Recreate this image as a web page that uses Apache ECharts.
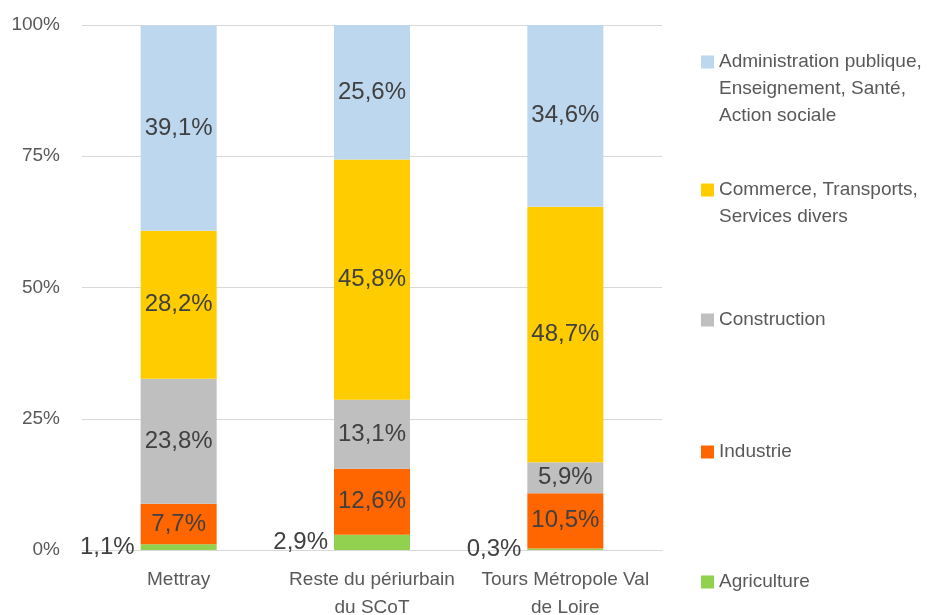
<!DOCTYPE html>
<html>
<head>
<meta charset="utf-8">
<script src="https://cdn.jsdelivr.net/npm/echarts@6/dist/echarts.min.js"></script>
<style>
  html, body { margin: 0; padding: 0; background: #ffffff; }
  #chart { width: 930px; height: 615px; }
</style>
</head>
<body>
<div id="chart"></div>
<script>
// Territories on the category axis
var categories = ['Mettray', 'Reste du périurbain\ndu SCoT', 'Tours Métropole Val\nde Loire'];

// Share of jobs by sector (%), one array per sector
var agriculture    = [1.1, 2.9, 0.3];
var industrie      = [7.7, 12.6, 10.5];
var construction   = [23.8, 13.1, 5.9];
var commerce       = [28.2, 45.8, 48.7];
var administration = [39.1, 25.6, 34.6];

// Sector names as shown in the legend
var sectorNames = [
  'Agriculture',
  'Industrie',
  'Construction',
  'Commerce, Transports,\nServices divers',
  'Administration publique,\nEnseignement, Santé,\nAction sociale'
];

// Y axis ticks
var yTicks = [0, 25, 50, 75, 100];

var narrowFont = '"Liberation Sans Narrow", "Arial Narrow", "Liberation Sans", Arial, sans-serif';
var labelFont = '"Liberation Sans", Arial, sans-serif';
var colors = ['#92D050', '#FF6600', '#BFBFBF', '#FFCC00', '#BDD7EE'];
var seriesData = [agriculture, industrie, construction, commerce, administration];

function fmt(v) {
  return v.toFixed(1).replace('.', ',') + '%';
}

var series = seriesData.map(function (vals, i) {
  return {
    name: sectorNames[i],
    type: 'bar',
    stack: 'total',
    barWidth: 76,
    data: vals,
    itemStyle: { color: colors[i] },
    label: {
      show: true,
      position: i === 0 ? 'left' : 'inside',
      distance: 6,
      formatter: function (p) { return fmt(p.value); },
      color: '#404040',
      fontFamily: labelFont,
      fontSize: 24
    },
    emphasis: { disabled: true }
  };
});

// One legend block per sector; blank lines are prepended so that the
// first text line sits level with the swatch (the text block is centred on it)
var lineH = 27;
var legendCenters = [582, 452, 320, 190, 62];
var legends = sectorNames.map(function (name, i) {
  var nLines = name.split('\n').length;
  var totalLines = 2 * nLines - 1;
  var boxH = totalLines * lineH;
  return {
    data: [name],
    left: 701,
    top: legendCenters[i] - boxH / 2,
    padding: 0,
    orient: 'vertical',
    selectedMode: false,
    icon: 'rect',
    itemWidth: 13,
    itemHeight: 13,
    formatter: function (n) {
      return new Array(nLines).join('\n') + n;
    },
    textStyle: {
      color: '#595959',
      fontFamily: narrowFont,
      fontSize: 19,
      lineHeight: lineH
    }
  };
});

var chart = echarts.init(document.getElementById('chart'), null, { renderer: 'canvas' });
chart.setOption({
  animation: false,
  backgroundColor: '#ffffff',
  grid: {
    left: 82, right: 268, top: 25, bottom: 65,
    containLabel: false,
    outerBoundsMode: 'none'
  },
  legend: legends,
  xAxis: {
    type: 'category',
    data: categories,
    axisTick: { show: false },
    axisLine: { show: true, lineStyle: { color: '#D9D9D9', width: 1 } },
    axisLabel: {
      interval: 0,
      margin: 16,
      color: '#595959',
      fontFamily: narrowFont,
      fontSize: 19,
      lineHeight: 28
    }
  },
  yAxis: {
    type: 'value',
    min: yTicks[0],
    max: yTicks[yTicks.length - 1],
    interval: 25,
    axisLine: { show: false },
    axisTick: { show: false },
    splitLine: { lineStyle: { color: '#D9D9D9', width: 1 } },
    axisLabel: {
      margin: 22,
      color: '#595959',
      fontFamily: narrowFont,
      fontSize: 19,
      formatter: '{value}%'
    }
  },
  series: series
});
</script>
</body>
</html>
